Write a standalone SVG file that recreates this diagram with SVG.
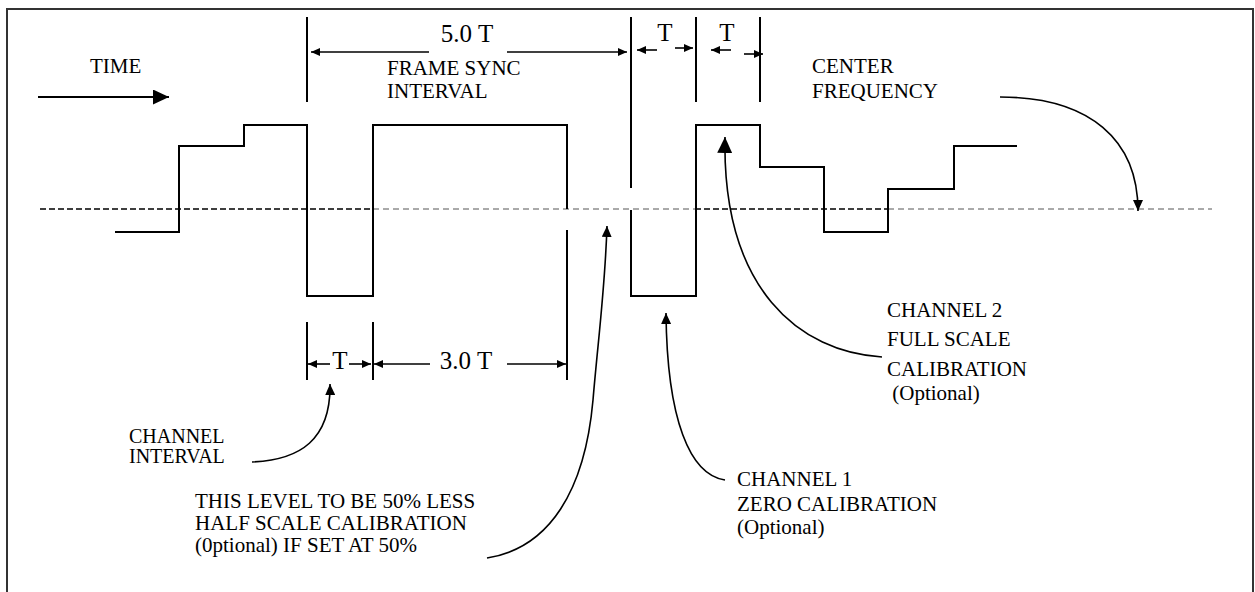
<svg xmlns="http://www.w3.org/2000/svg" width="1255" height="592" viewBox="0 0 1255 592">
<style>
text{font-family:"Liberation Serif","Times New Roman",serif;font-size:21px;fill:#000}
.dim{font-size:25px}
.tight{font-size:20px}
.wave{fill:none;stroke:#000;stroke-width:2}
.ext{fill:none;stroke:#000;stroke-width:2}
.dl{fill:none;stroke:#000;stroke-width:1.6}
.cv{fill:none;stroke:#000;stroke-width:1.6}
.dashA{fill:none;stroke:#000;stroke-width:1.6;stroke-dasharray:6 3}
.dashB{fill:none;stroke:#555;stroke-width:1;stroke-dasharray:6 4}
</style>
<defs>
<marker id="big" markerUnits="userSpaceOnUse" markerWidth="16" markerHeight="15" refX="16" refY="7.5" orient="auto"><path d="M0,0 L16,7.5 L0,15 z" fill="#000"/></marker>
<marker id="mid" markerUnits="userSpaceOnUse" markerWidth="11" markerHeight="10" refX="11" refY="5" orient="auto"><path d="M0,0 L11,5 L0,10 z" fill="#000"/></marker>
<marker id="sm" markerUnits="userSpaceOnUse" markerWidth="9" markerHeight="8" refX="9" refY="4" orient="auto"><path d="M0,0 L9,4 L0,8 z" fill="#000"/></marker>
</defs>
<rect x="7" y="9" width="1246" height="600" fill="#fff" stroke="#333" stroke-width="2"/>

<g id="centerline">
<path class="dashA" d="M40,209 H373"/>
<path class="dashB" d="M373,209 H695"/>
<path class="dashA" d="M695,209 H888"/>
<path class="dashB" d="M888,209 H1212"/>
</g>

<g id="waveform">
<path class="wave" d="M115,232 H179 V146 H244 V125 H307 V296 H373 V125 H567 V209"/>
<path class="wave" d="M631,210 V296 H696 V125 H760 V167 H824 V232 H888 V189 H954 V146 H1017"/>
</g>

<g id="connectors">
<path class="ext" d="M307,17 V102 M631,17 V188 M696,17 V102 M760,17 V102"/>
<path class="ext" d="M307,322 V380 M373,322 V380 M567,230 V380"/>
<path class="dl" d="M429,52 H311" marker-end="url(#sm)"/>
<path class="dl" d="M507,52 H627" marker-end="url(#sm)"/>
<path class="dl" d="M657,50 H637" marker-end="url(#sm)"/>
<path class="dl" d="M675,48 H693" marker-end="url(#sm)"/>
<path class="dl" d="M731,50 H711" marker-end="url(#sm)"/>
<path class="dl" d="M744,54 H763" marker-end="url(#sm)"/>
<path class="dl" d="M330,364 H308" marker-end="url(#sm)"/>
<path class="dl" d="M349,364 H371" marker-end="url(#sm)"/>
<path class="dl" d="M430,364 H374" marker-end="url(#sm)"/>
<path class="dl" d="M507,364 H566" marker-end="url(#sm)"/>
<path class="ext" d="M38,97 H169" marker-end="url(#big)"/>
<path class="cv" d="M252,462 C300,460 331,440 330,384" marker-end="url(#mid)"/>
<path class="cv" d="M487,558 C550,548 585,490 593,400 C598,340 605,290 607,226" marker-end="url(#mid)"/>
<path class="cv" d="M725,480 C690,475 667,420 666,313" marker-end="url(#mid)"/>
<path class="cv" d="M882,357 C800,352 722,290 725,137" marker-end="url(#big)"/>
<path class="cv" d="M1000,97 C1090,97 1138,140 1138,211" marker-end="url(#mid)"/>
</g>

<g id="label-time"><text x="90" y="73">TIME</text></g>
<g id="label-5T"><text class="dim" x="467" y="42" text-anchor="middle">5.0 T</text></g>
<g id="label-frame"><text x="387" y="75">FRAME SYNC</text><text x="387" y="98">INTERVAL</text></g>
<g id="label-T1"><text class="dim" x="665" y="41" text-anchor="middle">T</text></g>
<g id="label-T2"><text class="dim" x="727" y="41" text-anchor="middle">T</text></g>
<g id="label-center"><text x="812" y="73">CENTER</text><text x="812" y="98">FREQUENCY</text></g>
<g id="label-T3"><text class="dim" x="340" y="369" text-anchor="middle">T</text></g>
<g id="label-3T"><text class="dim" x="466" y="369" text-anchor="middle">3.0 T</text></g>
<g id="label-chint"><text class="tight" x="129" y="443">CHANNEL</text><text class="tight" x="129" y="463">INTERVAL</text></g>
<g id="label-half"><text x="195" y="508">THIS LEVEL TO BE 50% LESS</text><text x="195" y="530">HALF SCALE CALIBRATION</text><text x="195" y="552">(0ptional) IF SET AT 50%</text></g>
<g id="label-ch1"><text x="737" y="486">CHANNEL 1</text><text x="737" y="511">ZERO CALIBRATION</text><text x="737" y="534">(Optional)</text></g>
<g id="label-ch2"><text x="887" y="317">CHANNEL 2</text><text x="887" y="346">FULL SCALE</text><text x="887" y="376">CALIBRATION</text><text x="887" y="400" xml:space="preserve"> (Optional)</text></g>
</svg>
